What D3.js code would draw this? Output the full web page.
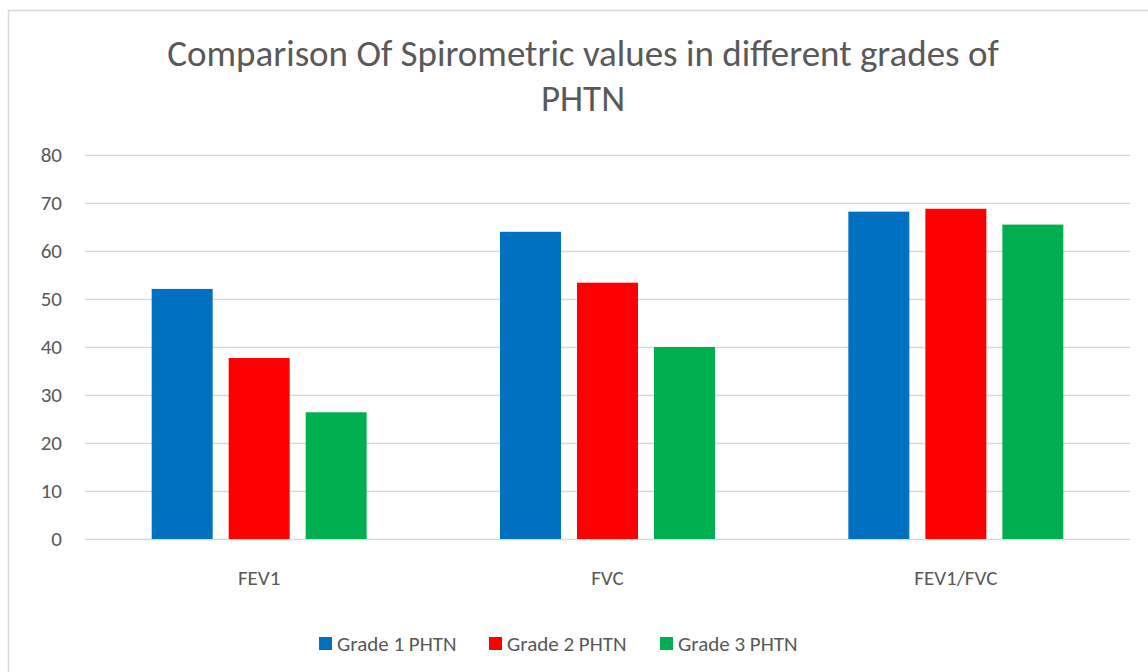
<!DOCTYPE html>
<html>
<head>
<meta charset="utf-8">
<script src="https://cdn.jsdelivr.net/npm/d3@7"></script>
<style>
  body { margin: 0; background: #fff; }
  svg { display: block; font-family: Carlito, Calibri, "Open Sans", sans-serif; }
</style>
</head>
<body>
<script>
var width = 1148
var height = 672

var categories = ['FEV1', 'FVC', 'FEV1/FVC']
var seriesNames = ['Grade 1 PHTN', 'Grade 2 PHTN', 'Grade 3 PHTN']
var grade1 = [52.1, 64.0, 68.2]
var grade2 = [37.7, 53.4, 68.8]
var grade3 = [26.4, 40.0, 65.5]
var yTicks = [0, 10, 20, 30, 40, 50, 60, 70, 80]
var colors = ['#0070c0', '#ff0000', '#00b050']

var series = [grade1, grade2, grade3]

var margin = { top: 155, right: 18, bottom: 133, left: 85 }
var fontFamily = 'Carlito, Calibri, "Open Sans", sans-serif'

var svg = d3.select('body').append('svg')
    .attr('width', width)
    .attr('height', height)

// chart frame
svg.append('rect')
    .attr('x', 8.5)
    .attr('y', 10.5)
    .attr('width', width + 20)
    .attr('height', height + 20)
    .attr('fill', '#fff')
    .attr('stroke', '#d9d9d9')
    .attr('stroke-width', 1.5)

var x0 = d3.scaleBand()
    .domain(categories)
    .range([margin.left, width - margin.right])
    .padding(0)

var x1 = d3.scaleBand()
    .domain(seriesNames)
    .range([0, x0.bandwidth()])
    .paddingInner(0.208)
    .paddingOuter(0.866)

var y = d3.scaleLinear()
    .domain([0, 80])
    .range([height - margin.bottom, margin.top])

// gridlines
var grid = svg.append('g')
    .attr('transform', 'translate(' + margin.left + ',0)')
    .call(d3.axisLeft(y).tickValues(yTicks).tickSize(-(width - margin.left - margin.right)).tickFormat(''))
grid.select('.domain').remove()
grid.selectAll('line').attr('stroke', '#d9d9d9').attr('stroke-width', 1.3)

// y labels
var yAxis = svg.append('g')
    .attr('transform', 'translate(62,0)')
    .call(d3.axisLeft(y).tickValues(yTicks).tickSize(0).tickPadding(0))
    .attr('font-family', fontFamily)
yAxis.select('.domain').remove()
yAxis.selectAll('text')
    .attr('fill', '#595959')
    .style('font-size', '21px')

// bars
var groups = svg.append('g')
    .selectAll('g')
    .data(categories)
    .enter()
    .append('g')
    .attr('transform', function (d) {
        return 'translate(' + x0(d) + ',0)'
    })

groups.selectAll('rect')
    .data(function (d, i) {
        return seriesNames.map(function (s, j) {
            return { name: s, value: series[j][i], color: colors[j] }
        })
    })
    .enter()
    .append('rect')
    .attr('x', function (d) { return x1(d.name) })
    .attr('width', x1.bandwidth())
    .attr('y', function (d) { return y(d.value) })
    .attr('height', function (d) { return y(0) - y(d.value) })
    .attr('fill', function (d) { return d.color })

// x labels
var xAxis = svg.append('g')
    .attr('transform', 'translate(0,' + (height - margin.bottom) + ')')
    .call(d3.axisBottom(x0).tickSize(0).tickPadding(46))
    .attr('font-family', fontFamily)
xAxis.select('.domain').remove()
xAxis.selectAll('text')
    .attr('fill', '#595959')
    .attr('dy', 0)
    .style('font-size', '21px')

// title
var title = svg.append('text')
    .attr('text-anchor', 'middle')
    .attr('fill', '#595959')
    .style('font-size', '37px')
title.append('tspan').attr('x', 583).attr('y', 66).text('Comparison Of Spirometric values in different grades of')
title.append('tspan').attr('x', 583).attr('y', 111).text('PHTN')

// legend
var legendX = [319, 489, 660]
var legend = svg.append('g')
    .selectAll('g')
    .data(seriesNames)
    .enter()
    .append('g')
    .attr('transform', function (d, i) {
        return 'translate(' + legendX[i] + ',637)'
    })
legend.append('rect')
    .attr('width', 13)
    .attr('height', 13)
    .attr('fill', function (d, i) { return colors[i] })
legend.append('text')
    .attr('x', 18)
    .attr('y', 14)
    .attr('fill', '#595959')
    .style('font-size', '21px')
    .text(function (d) { return d })
</script>
</body>
</html>
